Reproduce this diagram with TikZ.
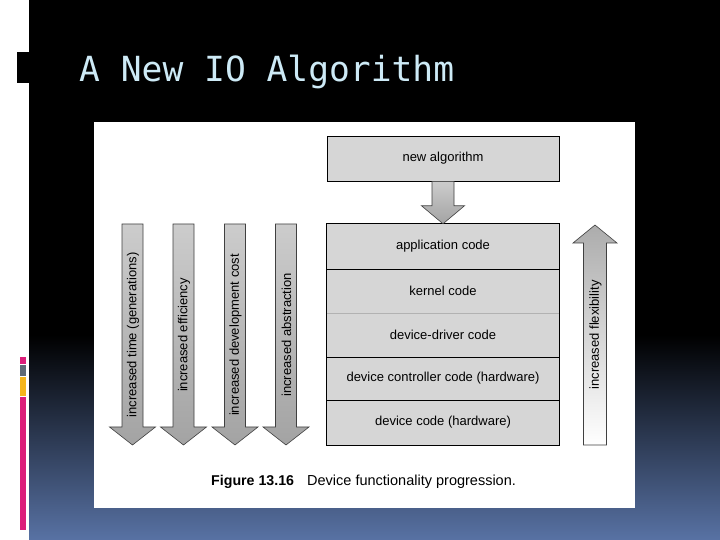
\documentclass[tikz,border=0pt]{standalone}
\usepackage{fontspec}
\setmainfont{Liberation Sans}
\newfontfamily\titlefont{DejaVu Sans Mono}
\usetikzlibrary{calc}
\definecolor{slatebg}{RGB}{88,114,164}
\definecolor{titlec}{RGB}{205,234,246}
\definecolor{pinkc}{RGB}{220,30,122}
\definecolor{graybar}{RGB}{95,106,118}
\definecolor{orangec}{RGB}{245,182,28}
\definecolor{boxgray}{RGB}{214,214,214}
\newcommand\bigdownarrow[3]{%
  \draw[arrowfill] (#1-10.5,316) -- (#1+10.5,316) -- (#1+10.5,113) -- (#1+23,113)
     -- (#1,95) -- (#1-23,113) -- (#1-10.5,113) -- cycle;
  \node[lbl, rotate=90] (#3) at (#1+0.5,205) {#2};}
\begin{document}
\begin{tikzpicture}[x=1pt,y=1pt,
  lbl/.style={font=\fontsize{13}{15}\selectfont, inner sep=0pt},
  layer/.style={fill=boxgray, minimum width=232pt, inner sep=0pt,
                font=\fontsize{13}{15}\selectfont},
  arrowfill/.style={draw=black!75, line width=0.6pt, top color=gray!40, bottom color=gray!72},
  divider/.style={line width=0.8pt, draw=black}
]
\useasboundingbox (0,0) rectangle (720,540);
% background
\fill[black] (0,0) rectangle (720,540);
\shade[top color=black, bottom color=slatebg] (29,0) rectangle (720,205);
\fill[white] (0,0) rectangle (29,540);
\fill[black] (17,457) rectangle (29,488);
\fill[pinkc] (20,176) rectangle (26,183);
\fill[graybar] (20,164) rectangle (26,175);
\fill[orangec] (20,144) rectangle (26,163);
\fill[pinkc] (20,10) rectangle (26,143);
% title
\node[anchor=base west, inner sep=0pt, text=titlec,
      font=\titlefont\fontsize{34.6}{40}\selectfont] (title) at (79,458) {A New IO Algorithm};
% white panel
\fill[white] (94,32) rectangle (635,418);
% new algorithm box
\node[layer, minimum height=45pt, draw=black, line width=0.8pt] (alg) at (443,381.5) {new algorithm};
% stack
\node[layer, minimum height=45pt] (app) at (443,293.5) {application code};
\node[layer, minimum height=44pt] (kern) at (443,249) {kernel code};
\node[layer, minimum height=44pt] (drv) at (443,205) {device-driver code};
\node[layer, minimum height=43pt] (ctrl) at (443,161.5) {device controller code (hardware)};
\node[layer, minimum height=45pt] (dev) at (443,117.5) {device code (hardware)};
\draw[divider] (app.north west) rectangle (dev.south east);
\draw[divider] (app.south west) -- (app.south east);
\draw[line width=0.4pt, draw=gray!60] (kern.south west) -- (kern.south east);
\draw[divider] (drv.south west) -- (drv.south east);
\draw[divider] (ctrl.south west) -- (ctrl.south east);
% arrow from new algorithm to stack
\draw[arrowfill] ($(alg.south)+(-11,0)$) -- ($(app.north)+(-11,18)$) -- ($(app.north)+(-21.5,18)$)
   -- (app.north) -- ($(app.north)+(21.5,18)$) -- ($(app.north)+(11,18)$) -- ($(alg.south)+(11,0)$) -- cycle;
% left arrows
\bigdownarrow{132.5}{increased time (generations)}{a1}
\bigdownarrow{183.5}{increased efficiency}{a2}
\bigdownarrow{235}{increased development cost}{a3}
\bigdownarrow{286}{increased abstraction}{a4}
% right arrow
\draw[draw=black!75, line width=0.6pt, top color=gray!65, bottom color=white]
  (583.5,95) -- (606.5,95) -- (606.5,297) -- (617,297) -- (595,315) -- (573,297) -- (583.5,297) -- cycle;
\node[lbl, rotate=90] (a5) at (595.5,205) {increased flexibility};
% caption
\node[anchor=base west, inner sep=0pt, font=\bfseries\fontsize{14.2}{16}\selectfont] (fig) at (211,54) {Figure 13.16};
\node[anchor=base west, inner sep=0pt, font=\fontsize{14.5}{16}\selectfont] (cap) at (307,54) {Device functionality progression.};
\end{tikzpicture}
\end{document}
